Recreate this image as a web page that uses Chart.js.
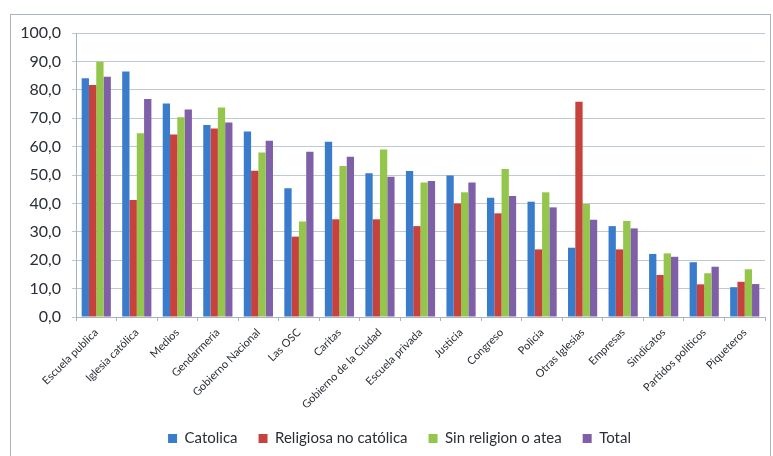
<!DOCTYPE html>
<html><head><meta charset="utf-8">
<script src="https://cdn.jsdelivr.net/npm/chart.js@4"></script>
<style>html,body{margin:0;padding:0;background:#fff}#wrap{position:relative;width:773px;height:456px}</style>
</head><body><div id="wrap"><canvas id="c" width="773" height="456"></canvas></div>
<script>
const categories = ["Escuela publica","Iglesia católica","Medios","Gendarmeria","Gobierno Nacional","Las OSC","Caritas","Gobierno de la Ciudad","Escuela privada","Justicia","Congreso","Policia","Otras Iglesias","Empresas","Sindicatos","Partidos politicos","Piqueteros"];
const catolica =   [84.1, 86.4, 75.2, 67.6, 65.3, 45.3, 61.7, 50.6, 51.4, 49.8, 42.0, 40.6, 24.4, 32.0, 22.2, 19.3, 10.5];
const noCatolica = [81.7, 41.2, 64.3, 66.4, 51.5, 28.3, 34.4, 34.4, 32.0, 40.0, 36.5, 23.8, 75.8, 23.8, 14.8, 11.5, 12.4];
const sinReligion = [89.9, 64.7, 70.3, 73.8, 57.9, 33.6, 53.2, 59.0, 47.4, 43.9, 52.1, 43.9, 39.8, 33.8, 22.4, 15.4, 16.8];
const total =      [84.6, 76.8, 73.1, 68.5, 62.1, 58.2, 56.4, 49.4, 47.9, 47.4, 42.6, 38.6, 34.2, 31.2, 21.2, 17.7, 11.6];
const seriesNames = ["Catolica","Religiosa no católica","Sin religion o atea","Total"];
const yTicks = [0,10,20,30,40,50,60,70,80,90,100];

const colors = ["#3a7ccc","#c8423d","#93c64a","#7e5fa8"];
const frame = {
  id: 'frame',
  beforeDraw(chart) {
    const ctx = chart.ctx;
    ctx.save();
    ctx.fillStyle = '#fff';
    ctx.fillRect(0,0,chart.width,chart.height);
    ctx.strokeStyle = '#a9b6c2';
    ctx.lineWidth = 1;
    ctx.strokeRect(10.5, 14.5, 760, 470);
    ctx.restore();
  },
  afterLayout(chart) {
    const lg = chart.legend;
    if (lg) { lg.left += 11; lg.right += 11; }
  }
};
const fontFam = "Lato, 'Open Sans', sans-serif";
new Chart(document.getElementById('c'), {
  type: 'bar',
  data: {
    labels: categories,
    datasets: [catolica, noCatolica, sinReligion, total].map((d,i)=>({
      label: seriesNames[i], data: d, backgroundColor: colors[i], borderWidth: 0,
      categoryPercentage: 0.72, barPercentage: 1.0
    }))
  },
  options: {
    responsive: false, animation: false,
    layout: { padding: { left: 12, right: 8, top: 33, bottom: 0 } },
    plugins: {
      legend: { position: 'bottom', labels: { boxWidth: 9, boxHeight: 9, padding: 21, color: '#2a2f36', font: { family: fontFam, size: 15 } } },
      tooltip: { enabled: false }
    },
    scales: {
      x: {
        offset: true,
        grid: { display: true, drawOnChartArea: false, offset: true, tickLength: 4, color: '#a9b3bd' },
        border: { color: '#a9b3bd' },
        ticks: { minRotation: 45, maxRotation: 45, autoSkip: false, color: '#2a2f36', font: { family: fontFam, size: 11 }, padding: 5 },
        afterFit(s) { s.height = 93; }
      },
      y: {
        min: 0, max: 100,
        afterBuildTicks(s) { s.ticks = yTicks.map(v => ({ value: v })); },
        grid: { color: '#bfc9d3', tickLength: 4 },
        border: { color: '#a9b3bd' },
        ticks: { color: '#2a2f36', padding: 11, font: { family: fontFam, size: 16 }, callback: v => v.toFixed(1).replace('.', ',') },
        afterFit(s) { s.width = 64; }
      }
    }
  },
  plugins: [frame]
});
</script></body></html>
